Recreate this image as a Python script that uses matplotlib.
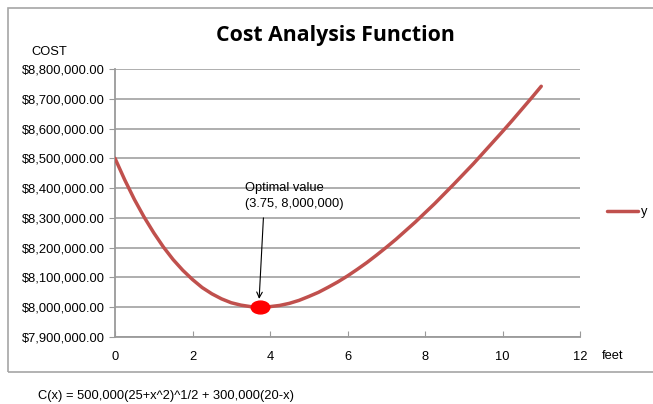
import matplotlib.pyplot as plt
from matplotlib.markers import MarkerStyle
from matplotlib.transforms import Affine2D
from matplotlib.patches import Rectangle

# values (feet, cost)
feet = [0, 0.25, 0.5, 0.75, 1, 1.25, 1.5, 1.75, 2, 2.25, 2.5, 2.75,
        3, 3.25, 3.5, 3.75, 4, 4.25, 4.5, 4.75, 5, 5.25, 5.5, 5.75,
        6, 6.25, 6.5, 6.75, 7, 7.25, 7.5, 7.75, 8, 8.25, 8.5, 8.75,
        9, 9.25, 9.5, 9.75, 10, 10.25, 10.5, 10.75, 11]
cost = [8500000, 8428000, 8362000, 8303000, 8250000, 8202000, 8160000, 8124000,
        8093000, 8066000, 8045000, 8028000, 8015000, 8007000, 8002000, 8000000,
        8002000, 8006000, 8013000, 8023000, 8036000, 8050000, 8067000, 8085000,
        8105000, 8127000, 8150000, 8175000, 8201000, 8228000, 8257000, 8286000,
        8317000, 8348000, 8381000, 8414000, 8448000, 8482000, 8518000, 8554000,
        8590000, 8627000, 8665000, 8703000, 8742000]
opt_x, opt_y = 3.75, 8000000
x_ticks = [0, 2, 4, 6, 8, 10, 12]
y_ticks = [7900000 + 100000 * i for i in range(10)]

plt.rcParams['font.family'] = ['Liberation Sans', 'DejaVu Sans']
red = '#C0504D'
gray = '#9a9a9a'
fs = 9.3

fig = plt.figure(figsize=(6.53, 4.04), dpi=100)
fig.patches.append(Rectangle((8 / 653, 1 - 372 / 404), 1.0, 364 / 404,
                             transform=fig.transFigure, fill=False,
                             edgecolor='#a6a6a6', linewidth=1.2))
ax = fig.add_axes([115 / 653, 1 - 337 / 404, 465 / 653, 268 / 404])

ax.plot(feet, cost, color=red, linewidth=2.5, label='y', zorder=3,
        solid_joinstyle='round', solid_capstyle='round')
ax.scatter([opt_x], [opt_y], s=85, color='#ff0000', zorder=4,
           marker=MarkerStyle('o', transform=Affine2D().scale(1.45, 1.0)))

ax.set_xlim(0, 12)
ax.set_ylim(7900000, 8800000)
ax.set_xticks(x_ticks)
ax.set_yticks(y_ticks)
ax.set_yticklabels(['${:,.2f}'.format(v) for v in y_ticks])
ax.tick_params(axis='both', labelsize=fs, colors=gray, labelcolor='black', length=4)
ax.tick_params(axis='x', direction='in', pad=10)
ax.grid(axis='y', color='#a8a8a8', linewidth=1.3)
ax.set_axisbelow(True)
for side in ['top', 'right']:
    ax.spines[side].set_visible(False)
for side in ['left', 'bottom']:
    ax.spines[side].set_color(gray)
    ax.spines[side].set_linewidth(1.3)

ax.text(3.36, 8373000, 'Optimal value\n(3.75, 8,000,000)', fontsize=fs,
        va='center', ha='left', linespacing=1.45)
ax.annotate('', xy=(3.72, 8028000), xytext=(3.83, 8300000),
            arrowprops=dict(arrowstyle='->', color='black', lw=0.8,
                            shrinkA=0, shrinkB=0))

fig.text(335 / 653, 1 - 35 / 404, 'Cost Analysis Function', ha='center',
         va='center', fontsize=15.3, fontweight='bold', family=['Open Sans', 'DejaVu Sans'])
fig.text(31 / 653, 1 - 52 / 404, 'COST', ha='left', va='center', fontsize=fs)
fig.text(602 / 653, 1 - 356 / 404, 'feet', ha='left', va='center', fontsize=fs)
fig.text(38 / 653, 1 - 396 / 404, 'C(x) = 500,000(25+x^2)^1/2 + 300,000(20-x)',
         ha='left', va='center', fontsize=fs)

fig.legend(loc='center left', bbox_to_anchor=(607 / 653, 1 - 212 / 404),
           frameon=False, fontsize=fs, handlelength=2.4, handletextpad=0.2,
           borderaxespad=0, borderpad=0)

plt.savefig('out.png', dpi=100)
